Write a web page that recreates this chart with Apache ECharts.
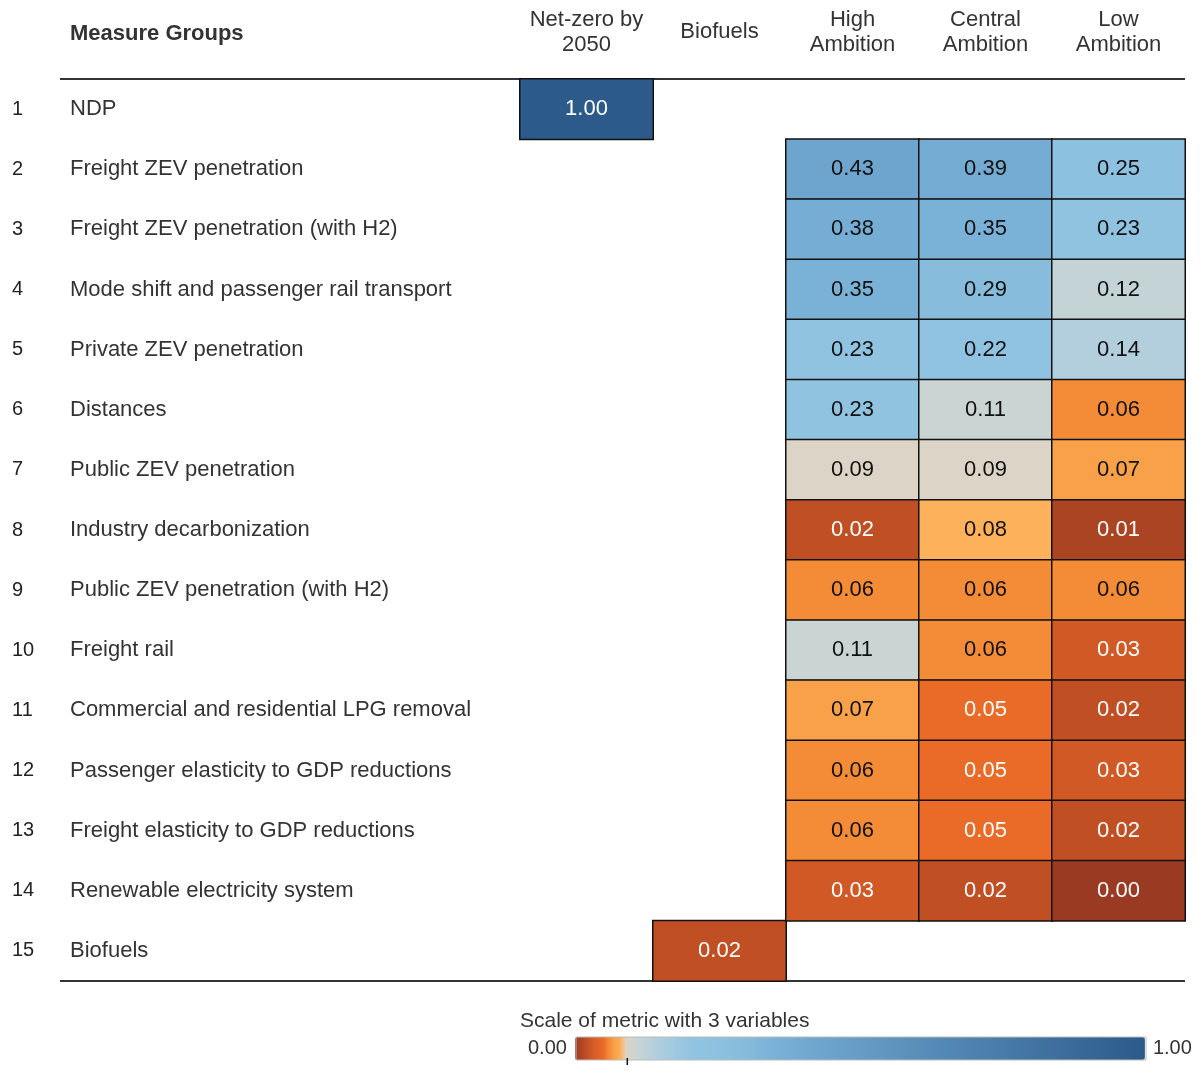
<!DOCTYPE html>
<html>
<head>
<meta charset="utf-8">
<title>Measure Groups</title>
<script src="https://cdn.jsdelivr.net/npm/echarts@6.0.0/dist/echarts.min.js"></script>
<style>
  html, body { margin: 0; padding: 0; background: #fff; }
  #chart { width: 1204px; height: 1075px; }
</style>
</head>
<body>
<div id="chart"></div>
<script>
// rows of the table, top to bottom
const measureGroups = [
  'NDP',
  'Freight ZEV penetration',
  'Freight ZEV penetration (with H2)',
  'Mode shift and passenger rail transport',
  'Private ZEV penetration',
  'Distances',
  'Public ZEV penetration',
  'Industry decarbonization',
  'Public ZEV penetration (with H2)',
  'Freight rail',
  'Commercial and residential LPG removal',
  'Passenger elasticity to GDP reductions',
  'Freight elasticity to GDP reductions',
  'Renewable electricity system',
  'Biofuels'
];

const scenarios = ['Net-zero by\n2050', 'Biofuels', 'High\nAmbition', 'Central\nAmbition', 'Low\nAmbition'];

// one array per column, null = empty cell
const netZero  = [1.00, null, null, null, null, null, null, null, null, null, null, null, null, null, null];
const biofuels = [null, null, null, null, null, null, null, null, null, null, null, null, null, null, 0.02];
const highAmb  = [null, 0.43, 0.38, 0.35, 0.23, 0.23, 0.09, 0.02, 0.06, 0.11, 0.07, 0.06, 0.06, 0.03, null];
const centralAmb = [null, 0.39, 0.35, 0.29, 0.22, 0.11, 0.09, 0.08, 0.06, 0.06, 0.05, 0.05, 0.05, 0.02, null];
const lowAmb   = [null, 0.25, 0.23, 0.12, 0.14, 0.06, 0.07, 0.01, 0.06, 0.03, 0.02, 0.03, 0.02, 0.00, null];

const columns = [netZero, biofuels, highAmb, centralAmb, lowAmb];

// colour scale stops (value, colour) - diverging around ~0.09
const colorStops = [
  [0.000, '#9b3a22'],
  [0.010, '#ab4423'],
  [0.025, '#cb5424'],
  [0.050, '#ea6b27'],
  [0.060, '#f48c37'],
  [0.075, '#fcab52'],
  [0.083, '#fdb55e'],
  [0.090, '#dcd4c6'],
  [0.110, '#c9d4d3'],
  [0.120, '#c3d3d6'],
  [0.140, '#b3cfdd'],
  [0.200, '#93c5e2'],
  [0.250, '#8cc1df'],
  [0.300, '#86bbdb'],
  [0.350, '#7ab1d7'],
  [0.430, '#6ea5ce'],
  [1.000, '#2b5a8b']
];
const midTick = 0.09;

function hex2rgb(h) {
  return [parseInt(h.substr(1, 2), 16), parseInt(h.substr(3, 2), 16), parseInt(h.substr(5, 2), 16)];
}
function colorAt(v) {
  for (let i = 1; i < colorStops.length; i++) {
    if (v <= colorStops[i][0]) {
      const a = colorStops[i - 1], b = colorStops[i];
      const t = (v - a[0]) / (b[0] - a[0]);
      const ca = hex2rgb(a[1]), cb = hex2rgb(b[1]);
      return 'rgb(' + ca.map((c, k) => Math.round(c + (cb[k] - c) * t)).join(',') + ')';
    }
  }
  return colorStops[colorStops.length - 1][1];
}
// palette for the continuous visualMap, evenly spaced on 0..1
const palette = [];
for (let i = 0; i <= 400; i++) palette.push(colorAt(i / 400));

const cells = [];
columns.forEach((col, x) => {
  col.forEach((v, y) => {
    if (v !== null) cells.push([x, y, v]);
  });
});

const font = "'Liberation Sans', Arial, sans-serif";

const chart = echarts.init(document.getElementById('chart'));

const option = {
  backgroundColor: '#fff',
  textStyle: { fontFamily: font },
  title: [{
    text: 'Measure Groups',
    left: 65,
    top: 18,
    textStyle: { fontFamily: font, fontSize: 22, fontWeight: 'bold', color: '#333' }
  }, {
    text: 'Scale of metric with 3 variables',
    left: 515,
    top: 1006,
    textStyle: { fontFamily: font, fontSize: 21, fontWeight: 'normal', color: '#333' }
  }],
  grid: { left: 520, right: 19, top: 79, bottom: 94 },
  xAxis: {
    type: 'category',
    position: 'top',
    data: scenarios,
    axisLine: { show: false },
    axisTick: { show: false },
    splitLine: { show: false },
    axisLabel: {
      interval: 0,
      hideOverlap: false,
      fontFamily: font,
      fontSize: 22,
      lineHeight: 25,
      color: '#333',
      verticalAlign: 'middle',
      margin: 47
    }
  },
  yAxis: [{
    type: 'category',
    inverse: true,
    data: measureGroups,
    axisLine: { show: false },
    axisTick: { show: false },
    axisLabel: {
      interval: 0,
      fontFamily: font,
      fontSize: 22,
      color: '#333',
      align: 'left',
      margin: 450
    }
  }, {
    type: 'category',
    inverse: true,
    position: 'left',
    data: measureGroups,
    axisLine: { show: false },
    axisTick: { show: false },
    axisLabel: {
      interval: 0,
      fontFamily: font,
      fontSize: 20,
      color: '#222',
      align: 'left',
      margin: 508,
      formatter: (v, i) => String(i + 1)
    }
  }],
  visualMap: {
    type: 'continuous',
    min: 0,
    max: 1,
    orient: 'horizontal',
    calculable: false,
    left: 513,
    top: 1022,
    itemWidth: 23,
    itemHeight: 570,
    text: ['1.00', '0.00'],
    textGap: 8,
    textStyle: { fontFamily: font, fontSize: 20, color: '#333' },
    inRange: { color: palette },
    seriesIndex: 0
  },
  series: [{
    type: 'heatmap',
    data: cells,
    itemStyle: { borderColor: '#111', borderWidth: 1.5 },
    emphasis: { disabled: true },
    label: {
      show: true,
      formatter: p => {
        const v = p.value[2];
        const tag = (v <= 0.05 || v >= 0.6) ? 'w' : 'k';
        return '{' + tag + '|' + v.toFixed(2) + '}';
      },
      rich: {
        w: { color: '#fff', fontSize: 22, fontFamily: font },
        k: { color: '#111', fontSize: 22, fontFamily: font }
      }
    }
  }],
  graphic: [
    // table rules
    { type: 'line', shape: { x1: 60, y1: 79, x2: 1185, y2: 79 }, style: { stroke: '#333', lineWidth: 2 } },
    { type: 'line', shape: { x1: 60, y1: 981, x2: 1185, y2: 981 }, style: { stroke: '#333', lineWidth: 2 } },
    // thin frame round the colour bar and a small tick at the midpoint
    { type: 'rect', shape: { x: 576, y: 1037, width: 570, height: 23 }, style: { fill: 'none', stroke: '#bbb', lineWidth: 1 }, z: 10 },
    { type: 'line', shape: { x1: 576 + midTick * 570, y1: 1058, x2: 576 + midTick * 570, y2: 1065 }, style: { stroke: '#111', lineWidth: 1.5 }, z: 11 }
  ]
};

chart.setOption(option);
</script>
</body>
</html>
